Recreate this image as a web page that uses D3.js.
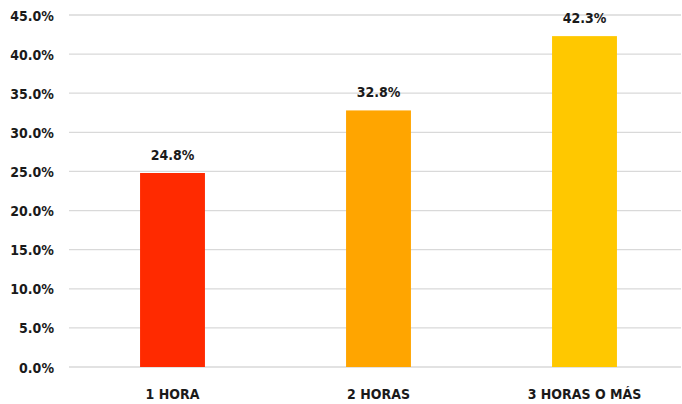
<!DOCTYPE html>
<html><head><meta charset="utf-8">
<script src="https://cdn.jsdelivr.net/npm/d3@7"></script>
<style>body{margin:0;background:#fff}svg{display:block}text{font-family:"DejaVu Sans Condensed","DejaVu Sans",sans-serif;font-stretch:condensed;font-weight:bold;fill:#1a1a1a}</style>
</head><body><svg id="c" width="682" height="404"></svg>
<script>
const categories = ["1 HORA", "2 HORAS", "3 HORAS O MÁS"];
const values = [24.8, 32.8, 42.3];
const colors = ["#FF2A00", "#FFA500", "#FFC800"];
const ticks = [0, 5, 10, 15, 20, 25, 30, 35, 40, 45];

const svg = d3.select("#c");
const y = d3.scaleLinear().domain([0, 45]).range([367, 15]);
const x = d3.scaleBand().domain(categories).range([69.5, 687.5]).paddingInner(0.685).paddingOuter(0.3425);

svg.append("g").selectAll("line").data(ticks).join("line")
  .attr("x1", 69).attr("x2", 681).attr("y1", d => y(d)).attr("y2", d => y(d))
  .attr("stroke", "#d9d9d9").attr("stroke-width", 1.3);

const ya = svg.append("g").attr("transform", "translate(54,0)")
  .call(d3.axisLeft(y).tickValues(ticks).tickSize(0).tickPadding(0).tickFormat(d => d.toFixed(1) + "%"));
ya.select(".domain").remove();
ya.selectAll("text").style("font-size", "14px").attr("dy", "0.36em");

svg.append("g").selectAll("rect").data(values).join("rect")
  .attr("x", (d, i) => x(categories[i])).attr("width", x.bandwidth())
  .attr("y", d => y(d)).attr("height", d => y(0) - y(d))
  .attr("fill", (d, i) => colors[i]);

svg.append("g").selectAll("text").data(values).join("text")
  .attr("x", (d, i) => x(categories[i]) + x.bandwidth() / 2)
  .attr("y", d => y(d) - 13).attr("text-anchor", "middle")
  .style("font-size", "14px").text(d => d.toFixed(1) + "%");

const xa = svg.append("g").attr("transform", "translate(0,367)")
  .call(d3.axisBottom(x).tickSize(0).tickPadding(0));
xa.select(".domain").remove();
xa.selectAll("text").style("font-size", "14px").attr("y", 32).attr("dy", "0");
</script></body></html>
